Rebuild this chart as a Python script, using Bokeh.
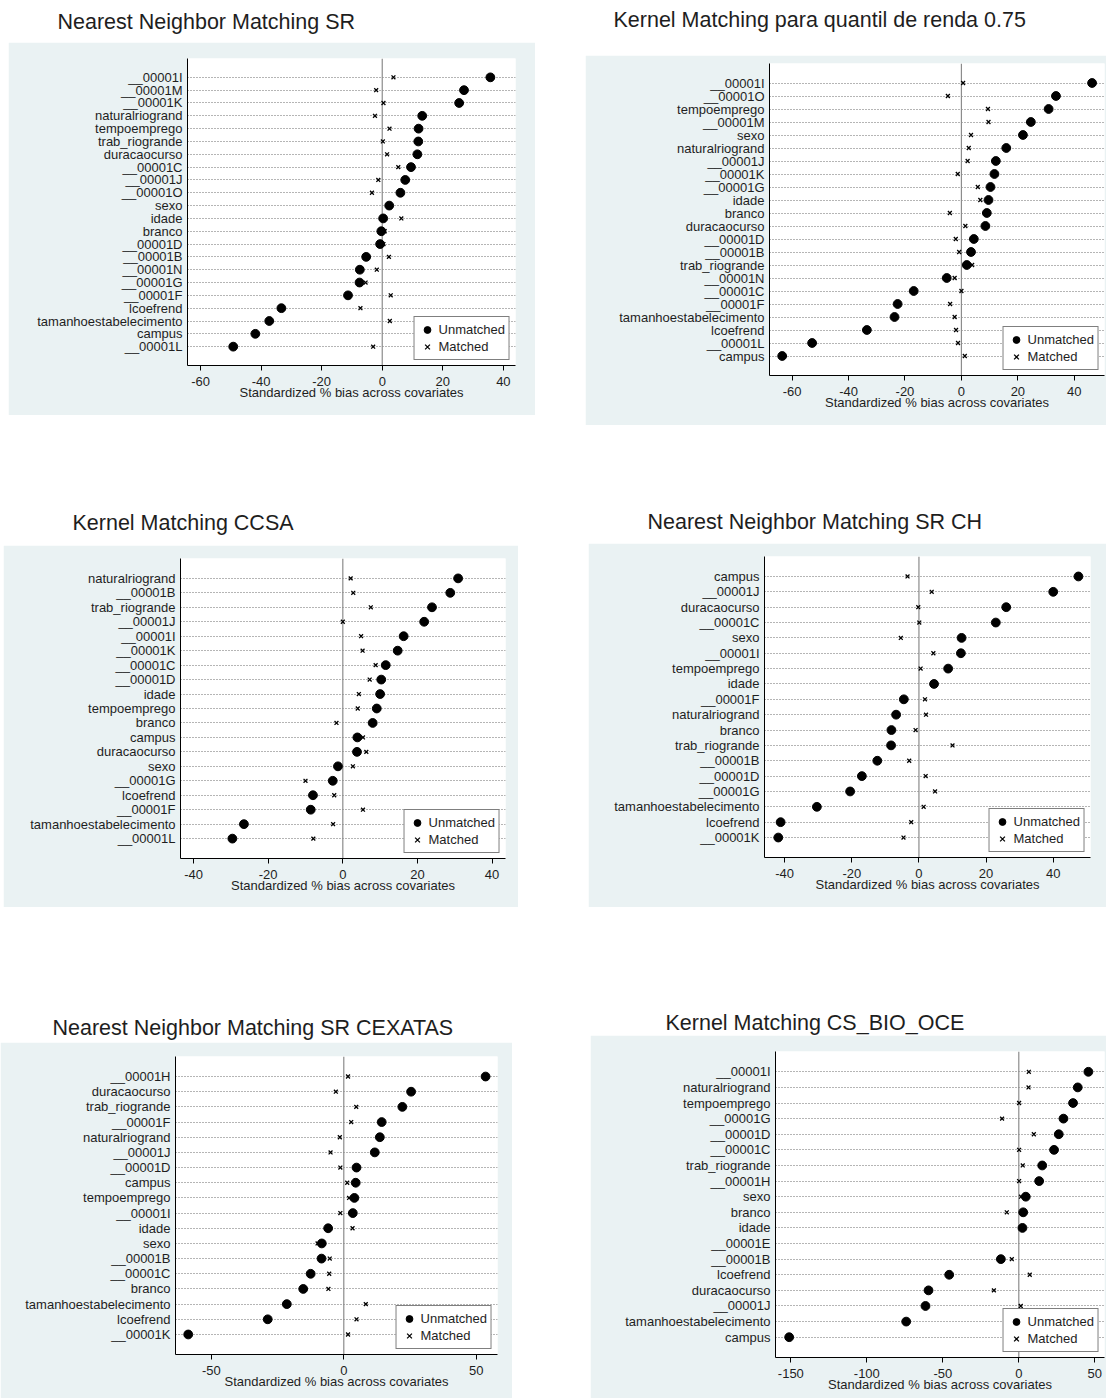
import numpy as np
from bokeh.plotting import figure
from bokeh.models import Range1d, FactorRange, Span, Label, FixedTicker, ColumnDataSource
from bokeh.embed import file_html
from bokeh.resources import INLINE

FONT = "Liberation Sans"
SHADE = "#eaf2f3"
TXT = "#1e1e1e"
NAN = float("nan")

# ---------------- data ----------------
p1_title = "Nearest Neighbor Matching SR"
p1_labels = ["__00001I", "__00001M", "__00001K", "naturalriogrand", "tempoemprego", "trab_riogrande",
             "duracaocurso", "__00001C", "__00001J", "__00001O", "sexo", "idade", "branco", "__00001D",
             "__00001B", "__00001N", "__00001G", "__00001F", "lcoefrend", "tamanhoestabelecimento",
             "campus", "__00001L"]
p1_unmatched = [35.7, 27.0, 25.4, 13.2, 12.0, 11.9, 11.6, 9.5, 7.6, 6.0, 2.3, 0.3, -0.3, -0.7,
                -5.3, -7.4, -7.5, -11.3, -33.3, -37.3, -41.9, -49.2]
p1_matched = [3.7, -2.0, 0.4, -2.4, 2.4, 0.2, 1.6, 5.3, -1.3, -3.4, 2.3, 6.3, 0.8, 0.4,
              2.2, -1.8, -5.5, 2.8, -7.2, 2.5, 14.0, -3.0]
p1_xticks = [-60, -40, -20, 0, 20, 40]

p2_title = "Kernel Matching para quantil de renda 0.75"
p2_labels = ["__00001I", "__00001O", "tempoemprego", "__00001M", "sexo", "naturalriogrand", "__00001J",
             "__00001K", "__00001G", "idade", "branco", "duracaocurso", "__00001D", "__00001B",
             "trab_riogrande", "__00001N", "__00001C", "__00001F", "tamanhoestabelecimento",
             "lcoefrend", "__00001L", "campus"]
p2_unmatched = [46.3, 33.5, 30.9, 24.6, 21.8, 15.9, 12.2, 11.7, 10.3, 9.6, 9.0, 8.5, 4.4, 3.4,
                1.9, -5.2, -16.9, -22.6, -23.7, -33.5, -52.9, -63.5]
p2_matched = [0.6, -4.8, 9.4, 9.6, 3.4, 2.6, 2.2, -1.3, 5.8, 6.7, -4.1, 1.4, -2.0, -0.8,
              3.8, -2.4, 0.0, -4.0, -2.4, -1.9, -1.2, 1.2]
p2_xticks = [-60, -40, -20, 0, 20, 40]

p3_title = "Kernel Matching CCSA"
p3_labels = ["naturalriogrand", "__00001B", "trab_riogrande", "__00001J", "__00001I", "__00001K",
             "__00001C", "__00001D", "idade", "tempoemprego", "branco", "campus", "duracaocurso",
             "sexo", "__00001G", "lcoefrend", "__00001F", "tamanhoestabelecimento", "__00001L"]
p3_unmatched = [30.9, 28.8, 23.9, 21.8, 16.3, 14.7, 11.5, 10.3, 10.0, 9.1, 8.0, 3.9, 3.8,
                -1.3, -2.7, -8.0, -8.6, -26.5, -29.6]
p3_matched = [2.1, 2.8, 7.5, 0.0, 4.9, 5.3, 8.8, 7.2, 4.3, 4.0, -1.7, 5.4, 6.3,
              2.7, -10.0, -2.3, 5.4, -2.6, -7.9]
p3_xticks = [-40, -20, 0, 20, 40]

p4_title = "Nearest Neighbor Matching SR CH"
p4_labels = ["campus", "__00001J", "duracaocurso", "__00001C", "sexo", "__00001I", "tempoemprego",
             "idade", "__00001F", "naturalriogrand", "branco", "trab_riogrande", "__00001B",
             "__00001D", "__00001G", "tamanhoestabelecimento", "lcoefrend", "__00001K"]
p4_unmatched = [47.5, 40.0, 26.0, 22.9, 12.7, 12.5, 8.7, 4.5, -4.5, -6.8, -8.2, -8.3, -12.4,
                -17.0, -20.5, -30.4, -41.2, -41.9]
p4_matched = [-3.4, 3.8, -0.2, 0.1, -5.4, 4.3, 0.5, 4.5, 1.8, 2.1, -1.0, 10.0, -2.9,
              2.0, 4.8, 1.4, -2.3, -4.6]
p4_xticks = [-40, -20, 0, 20, 40]

p5_title = "Nearest Neighbor Matching SR CEXATAS"
p5_labels = ["__00001H", "duracaocurso", "trab_riogrande", "__00001F", "naturalriogrand", "__00001J",
             "__00001D", "campus", "tempoemprego", "__00001I", "idade", "sexo", "__00001B",
             "__00001C", "branco", "tamanhoestabelecimento", "lcoefrend", "__00001K"]
p5_unmatched = [53.5, 25.4, 22.1, 14.3, 13.6, 11.7, 4.8, 4.5, 4.0, 3.4, -5.9, -8.3, -8.4,
                -12.5, -15.3, -21.5, -28.7, -58.7]
p5_matched = [1.6, -3.0, 4.7, 2.8, -1.5, -5.0, -1.3, 1.3, 2.0, -1.3, 3.3, -9.9, -5.3,
              -5.5, -5.8, 8.3, 4.8, 1.6]
p5_xticks = [-50, 0, 50]

p6_title = "Kernel Matching CS_BIO_OCE"
p6_labels = ["__00001I", "naturalriogrand", "tempoemprego", "__00001G", "__00001D", "__00001C",
             "trab_riogrande", "__00001H", "sexo", "branco", "idade", "__00001E", "__00001B",
             "lcoefrend", "duracaocurso", "__00001J", "tamanhoestabelecimento", "campus"]
p6_unmatched = [45.8, 38.8, 35.7, 29.4, 26.3, 23.2, 15.4, 13.4, 4.6, 2.9, 2.4, NAN, -11.8,
                -45.8, -59.4, -61.4, -74.1, -151.1]
p6_matched = [6.6, 6.4, 0.2, -11.0, 9.9, 0.2, 2.6, 0.2, 1.5, -7.9, 2.0, NAN, -4.6,
              7.2, -16.4, 1.3, 1.0, 1.5]
p6_xticks = [-150, -100, -50, 0, 50]

x_title = "Standardized % bias across covariates"
legend_unmatched = "Unmatched"
legend_matched = "Matched"


def pos(left, top):
    return {"position": "absolute", "left": f"{left}px", "top": f"{top}px"}


# ---------------- builders ----------------
def make_title(text, left, top, w, h, x, y):
    t = figure(width=w, height=h, title=None, toolbar_location=None, output_backend="svg",
               x_range=Range1d(0, w), y_range=Range1d(0, h), x_axis_type=None, y_axis_type=None,
               min_border=0, outline_line_color=None,
               background_fill_color="white", border_fill_color="white", styles=pos(left, top))
    t.grid.visible = False
    t.add_layout(Label(x=x, y=y, text=text, text_font=FONT, text_font_size="21.5px",
                       text_color=TXT, text_baseline="middle", text_align="left"))
    return t


def make_panel(labels, unmatched, matched, xticks, xr, left, top, w, h, mbl, mbr, mbt, mbb, pad):
    src = ColumnDataSource(dict(label=labels,
                                u=np.array(unmatched, dtype=float),
                                m=np.array(matched, dtype=float)))
    p = figure(width=w, height=h, title=None, toolbar_location=None, output_backend="svg",
               x_range=Range1d(*xr),
               y_range=FactorRange(factors=list(reversed(labels)), range_padding=pad,
                                   range_padding_units="absolute"),
               min_border_left=mbl, min_border_right=mbr, min_border_top=mbt, min_border_bottom=mbb,
               outline_line_color=None, background_fill_color="white", border_fill_color=SHADE,
               styles=pos(left, top))
    p.xgrid.visible = False
    p.ygrid.grid_line_color = "#6a6a6a"
    p.ygrid.grid_line_dash = "1 2"
    p.ygrid.grid_line_width = 1

    p.add_layout(Span(location=0, dimension="height", line_color="#8c8c8c", line_width=1.2,
                      level="underlay"))

    p.scatter(x="u", y="label", source=src, marker="circle", size=8.8,
              fill_color="black", line_color="black", legend_label=legend_unmatched)
    p.scatter(x="m", y="label", source=src, marker="x", size=5.5, line_width=1.3,
              line_color="black", legend_label=legend_matched)

    p.xaxis.ticker = FixedTicker(ticks=xticks, minor_ticks=[])
    p.xaxis.major_label_overrides = {t: str(t) for t in xticks}
    p.xaxis.axis_label = x_title
    p.xaxis.axis_label_text_font = FONT
    p.xaxis.axis_label_text_font_size = "13px"
    p.xaxis.axis_label_text_font_style = "normal"
    p.xaxis.axis_label_text_color = TXT
    p.xaxis.axis_label_standoff = -4
    p.xaxis.major_tick_out = 5
    p.xaxis.major_tick_in = 0
    p.xaxis.minor_tick_line_color = None
    p.xaxis.major_label_standoff = 6

    for ax in (p.xaxis, p.yaxis):
        ax.axis_line_color = "black"
        ax.axis_line_width = 1
        ax.major_tick_line_color = "black"
        ax.major_label_text_font = FONT
        ax.major_label_text_font_size = "13px"
        ax.major_label_text_color = TXT

    p.yaxis.major_tick_line_color = None
    p.yaxis.major_tick_out = 0
    p.yaxis.major_tick_in = 0
    p.yaxis.minor_tick_line_color = None
    p.yaxis.major_label_standoff = 5

    lg = p.legend[0]
    lg.location = "bottom_right"
    lg.margin = 5
    lg.padding = 4
    lg.spacing = 0
    lg.glyph_width = 17
    lg.glyph_height = 17
    lg.label_height = 17
    lg.label_standoff = 3
    lg.label_text_font = FONT
    lg.label_text_font_size = "13px"
    lg.label_text_color = TXT
    lg.border_line_color = "black"
    lg.border_line_width = 1
    lg.background_fill_color = "white"
    lg.background_fill_alpha = 1.0
    return p


roots = [
    make_title(p1_title, 8, 0, 527, 42, 49, 20.2),
    make_panel(p1_labels, p1_unmatched, p1_matched, p1_xticks, (-64.3, 44.0),
               8, 42, 527, 373, 179, 20, 16, 50, 0.97),
    make_title(p2_title, 585, 0, 521, 55, 28, 36),
    make_panel(p2_labels, p2_unmatched, p2_matched, p2_xticks, (-68.0, 50.7),
               585, 55, 521, 370, 184, 2, 8, 50, 1.0),
    make_title(p3_title, 3, 415, 515, 130, 69, 23),
    make_panel(p3_labels, p3_unmatched, p3_matched, p3_xticks, (-43.5, 43.6),
               3, 545, 515, 362, 177, 13, 13, 49, 0.875),
    make_title(p4_title, 588, 425, 518, 118, 59, 22),
    make_panel(p4_labels, p4_unmatched, p4_matched, p4_xticks, (-46.0, 51.1),
               588, 543, 518, 364, 176, 16, 13, 50, 0.8),
    make_title(p5_title, 0, 907, 512, 135, 52, 15),
    make_panel(p5_labels, p5_unmatched, p5_matched, p5_xticks, (-63.5, 58.0),
               0, 1042, 512, 356, 175, 15, 14, 44, 0.82),
    make_title(p6_title, 590, 907, 516, 128, 75, 13),
    make_panel(p6_labels, p6_unmatched, p6_matched, p6_xticks, (-160.1, 56.4),
               590, 1035, 516, 363, 185, 2, 16, 41, 0.8),
]

open("out.html", "w").write(file_html(roots, INLINE))
